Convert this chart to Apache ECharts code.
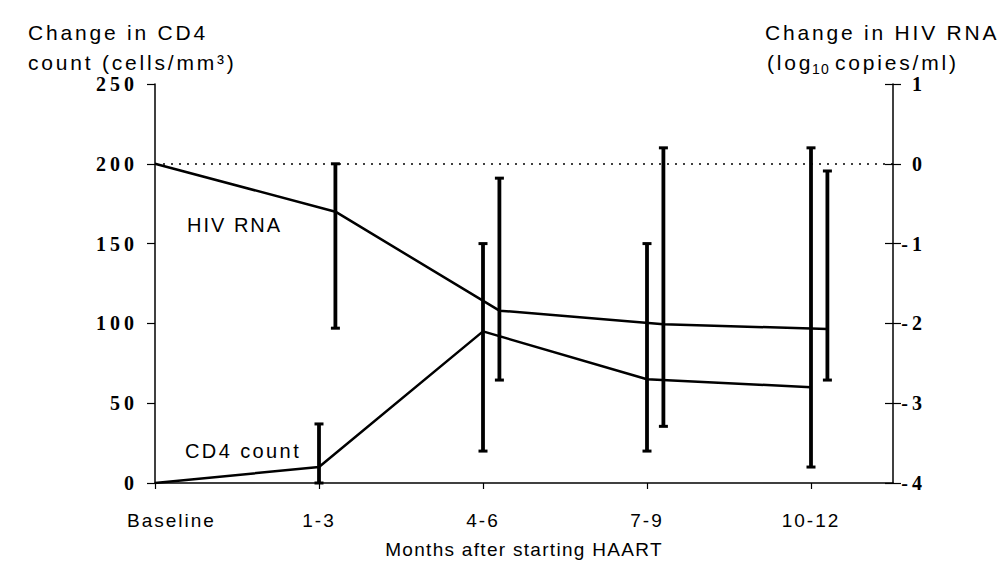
<!DOCTYPE html>
<html><head><meta charset="utf-8">
<script src="https://cdn.jsdelivr.net/npm/echarts@6/dist/echarts.min.js"></script>
<style>html,body{margin:0;padding:0;background:#fff;} #main{width:1004px;height:570px;}</style>
</head><body><div id="main"></div>
<script>
// ---- data ----
const categories = ['Baseline', '1-3', '4-6', '7-9', '10-12'];
const cd4X = [0, 1, 2, 3, 4];
const cd4Mean = [0, 10, 95, 65, 60];
const cd4Low = [null, 0, 20, 20, 10];
const cd4High = [null, 37, 150, 150, 210];
const hivX = [0, 1.1, 2.1, 3.1, 4.1];
const hivMean = [0, -0.6, -1.84, -2.01, -2.07];
const hivLow = [null, -2.06, -2.71, -3.29, -2.71];
const hivHigh = [null, 0, -0.18, 0.2, -0.09];
const leftTicks = [0, 50, 100, 150, 200, 250];
const rightTicks = [-4, -3, -2, -1, 0, 1];
const hivReference = 0;
const xLabelPos = [0.1, 1, 2, 3, 4];

// letter spacing (px) applied to rendered svg text
const spacingByText = {'HIV RNA': 2, 'CD4 count': 2.4, 'Months after starting HAART': 1.3};
const spacingBySize = {21: 2.8, 20: 4, 19: 2, 14: 1.2};

const chart = echarts.init(document.getElementById('main'), null, {renderer: 'svg'});

function errorBars(xs, lows, highs, yAxisIndex) {
  const data = [];
  xs.forEach((x, i) => { if (lows[i] != null) data.push([x, lows[i], highs[i]]); });
  return {
    type: 'custom', xAxisIndex: 0, yAxisIndex: yAxisIndex, data: data, silent: true, z: 3,
    encode: {x: 0, y: [1, 2]},
    renderItem: function (params, api) {
      const x = api.value(0);
      const lo = api.coord([x, api.value(1)]);
      const hi = api.coord([x, api.value(2)]);
      const c = 4.5;
      return {type: 'group', children: [
        {type: 'line', shape: {x1: lo[0], y1: lo[1], x2: hi[0], y2: hi[1]}, style: {stroke: '#000', lineWidth: 3.8}},
        {type: 'line', shape: {x1: lo[0] - c, y1: lo[1], x2: lo[0] + c, y2: lo[1]}, style: {stroke: '#000', lineWidth: 3}},
        {type: 'line', shape: {x1: hi[0] - c, y1: hi[1], x2: hi[0] + c, y2: hi[1]}, style: {stroke: '#000', lineWidth: 3}}
      ]};
    }
  };
}

const numLabel = {color: '#000', fontFamily: 'Liberation Serif', fontWeight: 'bold', fontSize: 20};
const titleStyle = {fill: '#000', font: '21px "Liberation Sans"'};

const option = {
  animation: false,
  backgroundColor: '#fff',
  grid: {left: 155, right: 111, top: 84, bottom: 87, containLabel: false},
  xAxis: {
    type: 'value', min: 0, max: 4.5, interval: 1,
    axisLine: {lineStyle: {color: '#000', width: 1.5}},
    axisTick: {show: true, length: 6, lineStyle: {color: '#000', width: 1.2}, customValues: cd4X},
    axisLabel: {customValues: xLabelPos, margin: 28, color: '#000', fontFamily: 'Liberation Sans', fontSize: 19,
      formatter: v => { const i = xLabelPos.indexOf(v); return i >= 0 ? categories[i] : ''; }},
    splitLine: {show: false},
    name: 'Months after starting HAART', nameLocation: 'middle', nameGap: 57,
    nameTextStyle: {color: '#000', fontFamily: 'Liberation Sans', fontSize: 19}
  },
  yAxis: [
    {type: 'value', position: 'left', min: leftTicks[0], max: leftTicks[leftTicks.length - 1], interval: 50,
      axisLine: {show: true, lineStyle: {color: '#000', width: 1.5}},
      axisTick: {show: true, length: 8, lineStyle: {color: '#000', width: 1.2}},
      axisLabel: Object.assign({margin: 17, padding: [0, 0, 7, 0]}, numLabel),
      splitLine: {show: false}},
    {type: 'value', position: 'right', min: rightTicks[0], max: rightTicks[rightTicks.length - 1], interval: 1,
      axisLine: {show: true, lineStyle: {color: '#000', width: 1.5}},
      axisTick: {show: true, length: 8, lineStyle: {color: '#000', width: 1.2}},
      axisLabel: Object.assign({margin: 33, align: 'right', padding: [0, 0, 7, 0]}, numLabel),
      splitLine: {show: false}},
    {type: 'value', position: 'right', min: rightTicks[0], max: rightTicks[rightTicks.length - 1], interval: 1,
      axisLine: {show: false},
      axisTick: {show: true, inside: true, length: 8, lineStyle: {color: '#000', width: 1.2}},
      axisLabel: {show: false}, splitLine: {show: false}}
  ],
  graphic: [
    {type: 'text', left: 28, top: 22, style: Object.assign({text: 'Change in CD4'}, titleStyle)},
    {type: 'text', left: 28, top: 52, style: Object.assign({text: 'count (cells/mm\u00b3)'}, titleStyle)},
    {type: 'text', left: 765, top: 22, style: Object.assign({text: 'Change in HIV RNA'}, titleStyle)},
    {type: 'text', left: 767, top: 52, style: Object.assign({text: '(log'}, titleStyle)},
    {type: 'text', left: 812, top: 62, style: {text: '10', fill: '#000', font: '14px "Liberation Sans"'}},
    {type: 'text', left: 835, top: 52, style: Object.assign({text: 'copies/ml)'}, titleStyle)},
    {type: 'text', left: 187, top: 215, style: {text: 'HIV RNA', fill: '#000', font: '20px "Liberation Sans"'}},
    {type: 'text', left: 185, top: 441, style: {text: 'CD4 count', fill: '#000', font: '20px "Liberation Sans"'}}
  ],
  series: [
    {type: 'line', name: 'CD4 count', xAxisIndex: 0, yAxisIndex: 0, showSymbol: false, silent: true, z: 4,
      data: cd4X.map((x, i) => [x, cd4Mean[i]]), lineStyle: {color: '#000', width: 2.5}},
    {type: 'line', name: 'HIV RNA', xAxisIndex: 0, yAxisIndex: 1, showSymbol: false, silent: true, z: 4,
      data: hivX.map((x, i) => [x, hivMean[i]]), lineStyle: {color: '#000', width: 2.5},
      markLine: {silent: true, symbol: 'none', label: {show: false},
        lineStyle: {color: '#000', width: 1.6, type: [2, 6]}, data: [{yAxis: hivReference}]}},
    errorBars(cd4X, cd4Low, cd4High, 0),
    errorBars(hivX, hivLow, hivHigh, 1)
  ]
};
chart.setOption(option);

function applySpacing() {
  document.querySelectorAll('#main svg text').forEach(el => {
    const t = el.textContent.trim();
    const fs = Math.round(parseFloat(getComputedStyle(el).fontSize));
    let s = spacingByText[t];
    if (s == null) s = spacingBySize[fs] != null ? spacingBySize[fs] : 0;
    el.style.letterSpacing = s + 'px';
  });
}
applySpacing();
chart.on('finished', applySpacing);
setTimeout(applySpacing, 50);
</script></body></html>
